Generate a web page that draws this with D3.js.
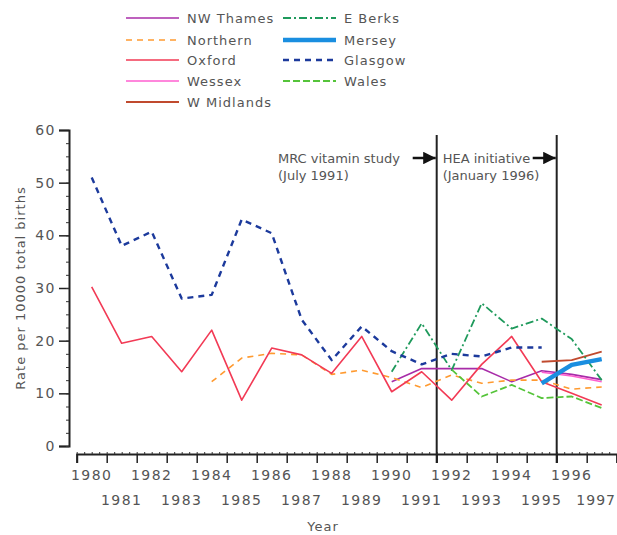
<!DOCTYPE html>
<html lang="en">
<head>
<meta charset="utf-8">
<title>Rates per 10000 total births</title>
<script src="https://cdn.jsdelivr.net/npm/d3@7"></script>
<style>
  body { margin: 0; background: #fff; }
  text { font-family: "DejaVu Sans", sans-serif; fill: #555; }
</style>
</head>
<body>
<script>
// years shown on the axis
var years = [1980, 1981, 1982, 1983, 1984, 1985, 1986, 1987, 1988,
             1989, 1990, 1991, 1992, 1993, 1994, 1995, 1996, 1997];
var yTicks = [0, 10, 20, 30, 40, 50, 60];

// series values, each with its first year
var glasgowStart = 1980;
var glasgow = [51, 38, 40.7, 28, 28.7, 43, 40.4, 24, 16.3, 22.7, 18, 15.5, 17.5, 17, 18.7, 18.7];
var oxfordStart = 1980;
var oxford = [30.2, 19.5, 20.8, 14.1, 22, 8.7, 18.6, 17.3, 13.8, 20.8, 10.3, 14.1, 8.7, 15.5, 20.8, 12.2, 10, 7.8];
var northernStart = 1984;
var northern = [12.2, 16.7, 17.6, 17.3, 13.6, 14.4, 13, 11.1, 13.5, 11.9, 12.5, 12.5, 10.8, 11.2];
var nwThamesStart = 1990;
var nwThames = [12.2, 14.7, 14.7, 14.7, 12.2, 14.3, 13.6, 12.6];
var wessexStart = 1995;
var wessex = [14, 13.3, 12.2];
var wMidlandsStart = 1995;
var wMidlands = [16, 16.3, 17.9];
var eBerksStart = 1990;
var eBerks = [14.1, 23.3, 14.4, 27.1, 22.3, 24.2, 20.3, 12.5];
var merseyStart = 1995;
var mersey = [11.9, 15.4, 16.5];
var walesStart = 1992;
var wales = [14.5, 9.4, 11.6, 9.1, 9.4, 7.2];

var events = [
  { year: 1992, lines: ["MRC vitamin study", "(July 1991)"] },
  { year: 1996, lines: ["HEA initiative", "(January 1996)"] }
];

var series = [
  { name: "NW Thames", start: nwThamesStart, values: nwThames, color: "#a82ca8", width: 1.6, dash: null },
  { name: "Northern", start: northernStart, values: northern, color: "#ff9a30", width: 1.6, dash: "6,5" },
  { name: "Oxford", start: oxfordStart, values: oxford, color: "#f23a55", width: 1.6, dash: null },
  { name: "Wessex", start: wessexStart, values: wessex, color: "#ff5fd0", width: 1.6, dash: null },
  { name: "W Midlands", start: wMidlandsStart, values: wMidlands, color: "#c04a2e", width: 1.8, dash: null },
  { name: "E Berks", start: eBerksStart, values: eBerks, color: "#1f9a5c", width: 1.8, dash: "8,3,2,3" },
  { name: "Glasgow", start: glasgowStart, values: glasgow, color: "#1c3a9c", width: 2.4, dash: "6,5" },
  { name: "Wales", start: walesStart, values: wales, color: "#55c43a", width: 1.8, dash: "7,3" },
  { name: "Mersey", start: merseyStart, values: mersey, color: "#1a8ee0", width: 4.5, dash: null }
];

var w = 617, h = 535;

var svg = d3.select("body").append("svg")
    .attr("width", w)
    .attr("height", h);

var x = d3.scaleLinear().domain([1980, 1998]).range([76.7, 616.7]);
var y = d3.scaleLinear().domain([0, 60]).range([446, 130]);

// y axis
var yAxis = d3.axisLeft(y).tickValues(yTicks).tickSize(10).tickPadding(3).tickFormat(d3.format("d"));
var gy = svg.append("g").attr("transform", "translate(69,0)").call(yAxis);
gy.select(".domain").attr("stroke", "#222").attr("stroke-width", 2);
gy.selectAll(".tick line").attr("stroke", "#222").attr("stroke-width", 1.5);
gy.selectAll(".tick text").style("font-size", "14px").style("letter-spacing", "1.5px").attr("fill", "#555");

var gyMinor = svg.append("g").attr("transform", "translate(69,0)")
    .call(d3.axisLeft(y).tickValues(d3.range(0, 60, 2.5)).tickSize(3).tickFormat(""));
gyMinor.select(".domain").remove();
gyMinor.selectAll(".tick line").attr("stroke", "#333");

// x axis
var xAxis = d3.axisBottom(x).tickValues(years.concat([1998])).tickSize(9).tickFormat("");
var gx = svg.append("g").attr("transform", "translate(0,454)").call(xAxis);
gx.select(".domain").attr("stroke", "#222").attr("stroke-width", 2);
gx.selectAll(".tick line").attr("stroke", "#222").attr("stroke-width", 1.5);

var gxMinor = svg.append("g").attr("transform", "translate(0,454)")
    .call(d3.axisTop(x).tickValues(d3.range(1980, 1998, 0.25)).tickSize(2).tickFormat(""));
gxMinor.select(".domain").remove();
gxMinor.selectAll(".tick line").attr("stroke", "#333");

// year labels sit between the ticks, on two staggered rows
svg.append("g").selectAll("text")
    .data(years)
    .enter()
    .append("text")
    .attr("x", function(d, i) { return i === years.length - 1 ? 616 : x(d + 0.5); })
    .attr("y", function(d, i) { return i % 2 === 0 ? 480 : 505; })
    .attr("text-anchor", function(d, i) { return i === years.length - 1 ? "end" : "middle"; })
    .style("font-size", "14px")
    .style("letter-spacing", function(d, i) { return i === years.length - 1 ? "1px" : "1.5px"; })
    .text(function(d) { return d; });

svg.append("text")
    .attr("x", 323)
    .attr("y", 531)
    .attr("text-anchor", "middle")
    .style("font-size", "13px")
    .style("letter-spacing", "1px")
    .text("Year");

svg.append("text")
    .attr("transform", "translate(25,288) rotate(-90)")
    .attr("text-anchor", "middle")
    .style("font-size", "13px")
    .style("letter-spacing", "1px")
    .text("Rate per 10000 total births");

// event lines and notes
svg.append("defs").append("marker")
    .attr("id", "arrow")
    .attr("viewBox", "0 0 10 10")
    .attr("refX", 10).attr("refY", 5)
    .attr("markerWidth", 5).attr("markerHeight", 5)
    .attr("orient", "auto")
    .append("path")
    .attr("d", "M0,0L10,5L0,10Z")
    .attr("fill", "#111");

var ev = svg.append("g").selectAll("g")
    .data(events)
    .enter()
    .append("g");

ev.append("line")
    .attr("x1", function(d) { return x(d.year); })
    .attr("x2", function(d) { return x(d.year); })
    .attr("y1", 135)
    .attr("y2", 463)
    .attr("stroke", "#222")
    .attr("stroke-width", 2);

ev.append("line")
    .attr("x1", function(d) { return x(d.year) - 24; })
    .attr("x2", function(d) { return x(d.year) - 1; })
    .attr("y1", 158)
    .attr("y2", 158)
    .attr("stroke", "#111")
    .attr("stroke-width", 2.5)
    .attr("marker-end", "url(#arrow)");

ev.each(function(d, i) {
  var g = d3.select(this);
  var tx = i === 0 ? 278 : x(events[i - 1].year) + 6;
  g.append("text")
      .attr("x", tx).attr("y", 163)
      .style("font-size", "13px")
      .text(d.lines[0]);
  g.append("text")
      .attr("x", tx).attr("y", 180)
      .style("font-size", "13px")
      .text(d.lines[1]);
});

// data lines
var line = d3.line()
    .x(function(d) { return x(d[0] + 0.5); })
    .y(function(d) { return y(d[1]); });

function points(s) {
  return s.values.map(function(v, i) { return [s.start + i, v]; });
}

svg.append("g").selectAll("path")
    .data(series)
    .enter()
    .append("path")
    .attr("d", function(d) { return line(points(d)); })
    .attr("fill", "none")
    .attr("stroke", function(d) { return d.color; })
    .attr("stroke-width", function(d) { return d.width; })
    .attr("stroke-dasharray", function(d) { return d.dash; })
    .attr("stroke-linejoin", "round");

// legend
var legendOrder = ["NW Thames", "Northern", "Oxford", "Wessex", "W Midlands",
                   "E Berks", "Mersey", "Glasgow", "Wales"];
var legendRows = [18, 40, 60, 81, 102];

var lg = svg.append("g").selectAll("g")
    .data(legendOrder)
    .enter()
    .append("g")
    .attr("transform", function(d, i) {
      var col = i < 5 ? 0 : 1;
      var row = i < 5 ? i : i - 5;
      return "translate(" + (col === 0 ? 126 : 283) + "," + legendRows[row] + ")";
    });

lg.append("line")
    .attr("x1", 0).attr("x2", 53)
    .attr("y1", 0).attr("y2", 0)
    .each(function(name) {
      var s = series.filter(function(e) { return e.name === name; })[0];
      d3.select(this)
        .attr("stroke", s.color)
        .attr("stroke-width", s.width)
        .attr("stroke-dasharray", s.dash);
    });

lg.append("text")
    .attr("x", 61)
    .attr("y", 5)
    .style("font-size", "13px")
    .style("letter-spacing", "1px")
    .text(function(d) { return d; });
</script>
</body>
</html>
